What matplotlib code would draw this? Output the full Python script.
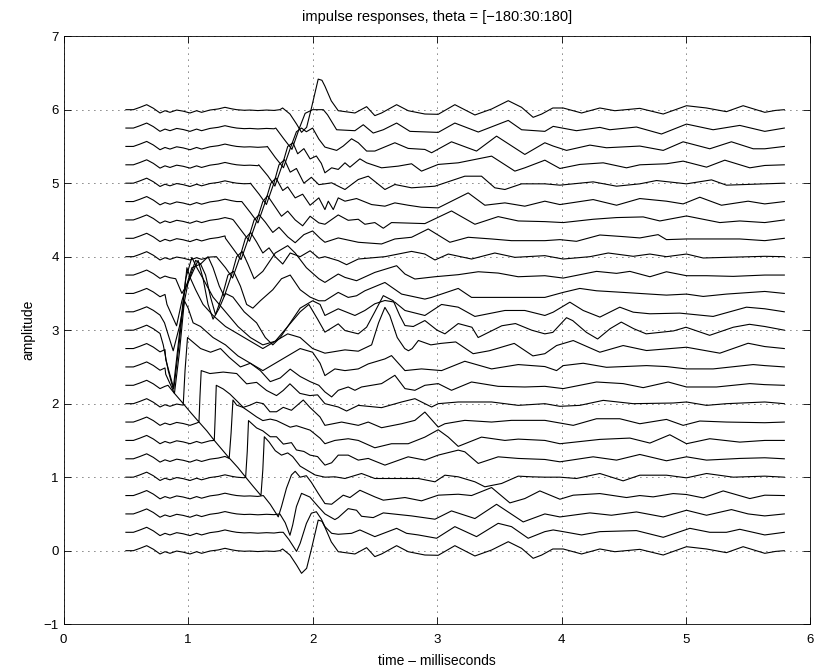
import matplotlib
matplotlib.use("Agg")
import matplotlib.pyplot as plt

plt.rcParams['font.family'] = ['Liberation Sans', 'DejaVu Sans']

# common lead-in shared by every response (t in ms, deviation from trace offset)
onset_t = [0.50, 0.56, 0.61, 0.667, 0.72, 0.774, 0.814, 0.854, 0.908, 0.96, 1.015, 1.068,
           1.108, 1.175, 1.242, 1.296, 1.349, 1.39, 1.45, 1.497, 1.56, 1.63, 1.69, 1.737]
onset_v = [0.0, 0.0, 0.03, 0.068, 0.02, -0.045, -0.014, -0.036, -0.005, -0.02, -0.045, -0.014,
           -0.036, -0.005, 0.01, 0.032, 0.012, 0.0, -0.008, -0.005, -0.012, -0.005, -0.01, 0.0]

# responses after the lead-in, (t, value) pairs; trace k is drawn at offset 0.25*k
h00 = [(1.759, 0.023), (1.818, -0.059), (1.871, -0.195), (1.911, -0.308), (1.952, -0.24),
       (1.992, 0.032), (2.045, 0.416), (2.075, 0.40), (2.099, 0.32), (2.15, 0.12), (2.206, -0.014),
       (2.34, -0.045), (2.434, 0.041), (2.5, -0.081), (2.554, -0.045), (2.675, 0.068), (2.768, -0.014),
       (2.902, -0.059), (3.009, -0.063), (3.143, 0.068), (3.304, -0.072), (3.438, 0.009), (3.572, 0.122),
       (3.679, 0.032), (3.772, -0.104), (3.84, -0.06), (3.93, 0.023), (4.013, 0.023), (4.161, -0.045),
       (4.308, 0.023), (4.428, -0.014), (4.629, 0.018), (4.817, -0.059), (5.004, 0.054), (5.165, 0.023),
       (5.325, -0.027), (5.459, 0.054), (5.633, -0.036), (5.72, -0.01), (5.79, 0.0)]
h01 = [(1.764, 0.0), (1.81, -0.1), (1.871, -0.26), (1.9, -0.15), (1.95, 0.12), (1.99, 0.26),
       (2.03, 0.28), (2.07, 0.18), (2.099, 0.077), (2.153, -0.014), (2.206, -0.027), (2.313, -0.014),
       (2.38, 0.032), (2.5, -0.059), (2.675, 0.054), (2.755, -0.014), (2.849, -0.036), (2.996, -0.081),
       (3.143, 0.077), (3.317, -0.059), (3.491, 0.122), (3.598, 0.077), (3.732, -0.081), (3.866, 0.009),
       (3.933, 0.032), (4.013, 0.009), (4.161, -0.036), (4.308, 0.009), (4.602, 0.023), (4.817, -0.068),
       (5.031, 0.054), (5.191, 0.0), (5.325, 0.0), (5.432, 0.041), (5.633, -0.036), (5.79, 0.0)]
h02 = [(1.737, 0.0), (1.78, -0.12), (1.818, -0.29), (1.84, -0.15), (1.87, 0.1), (1.911, 0.28),
       (1.978, 0.23), (2.045, 0.1), (2.099, 0.0), (2.179, -0.077), (2.206, -0.05), (2.286, 0.072),
       (2.353, 0.05), (2.393, -0.032), (2.487, -0.05), (2.568, 0.014), (2.795, -0.027), (2.983, -0.072),
       (3.116, 0.041), (3.304, -0.063), (3.478, 0.131), (3.692, -0.109), (3.866, 0.0), (3.987, -0.041),
       (4.228, 0.014), (4.401, -0.018), (4.602, 0.027), (4.817, -0.041), (5.004, 0.05), (5.165, -0.018),
       (5.365, 0.059), (5.499, 0.0), (5.633, -0.027), (5.79, 0.0)]
h03 = [(1.604, 0.0), (1.66, -0.12), (1.724, -0.29), (1.75, -0.15), (1.79, 0.1), (1.83, 0.28),
       (1.86, 0.33), (1.9, 0.25), (1.95, 0.27), (1.99, 0.18), (2.045, 0.03), (2.099, -0.109),
       (2.153, -0.118), (2.246, 0.005), (2.3, -0.027), (2.38, 0.072), (2.5, -0.018), (2.568, -0.063),
       (2.742, -0.027), (2.875, -0.072), (3.009, 0.005), (3.17, 0.018), (3.277, 0.0), (3.438, 0.109),
       (3.585, -0.1), (3.705, -0.041), (3.826, 0.063), (3.987, -0.05), (4.094, 0.005), (4.308, 0.027),
       (4.522, -0.027), (4.629, 0.0), (4.736, -0.018), (4.897, 0.027), (5.004, 0.014), (5.138, -0.032),
       (5.299, 0.063), (5.513, -0.041), (5.633, 0.005), (5.79, 0.0)]
h04 = [(1.462, 0.0), (1.52, -0.12), (1.585, -0.25), (1.6, 0.1), (1.612, 0.55), (1.65, 0.48),
       (1.7, 0.36), (1.75, 0.3), (1.8, 0.33), (1.84, 0.28), (1.9, 0.15), (1.95, 0.1), (2.02, 0.03),
       (2.099, 0.0), (2.179, 0.005), (2.26, -0.018), (2.393, 0.05), (2.5, -0.018), (2.634, -0.018),
       (2.849, -0.018), (2.983, -0.063), (3.063, 0.027), (3.17, 0.005), (3.304, -0.063), (3.384, -0.131),
       (3.518, -0.086), (3.652, 0.014), (3.759, 0.005), (3.866, 0.0), (3.987, 0.0), (4.12, -0.018),
       (4.308, 0.05), (4.495, -0.05), (4.629, 0.027), (4.843, 0.027), (5.004, -0.009), (5.165, 0.05),
       (5.379, 0.0), (5.633, 0.014), (5.79, 0.0)]
h05 = [(1.336, 0.0), (1.4, -0.12), (1.462, -0.25), (1.475, 0.1), (1.485, 0.52), (1.55, 0.42),
       (1.6, 0.38), (1.66, 0.3), (1.71, 0.3), (1.765, 0.2), (1.83, 0.22), (1.87, 0.12), (1.93, 0.1),
       (1.98, 0.05), (2.04, 0.03), (2.099, -0.086), (2.153, -0.054), (2.206, 0.05), (2.286, 0.05),
       (2.367, -0.018), (2.447, 0.005), (2.581, -0.086), (2.768, 0.027), (2.902, -0.018), (3.009, 0.05),
       (3.17, 0.118), (3.223, 0.095), (3.331, -0.063), (3.491, 0.027), (3.652, 0.005), (3.866, -0.009),
       (3.987, -0.041), (4.254, 0.027), (4.442, -0.018), (4.629, 0.059), (4.843, -0.027), (5.004, 0.027),
       (5.165, -0.018), (5.432, 0.005), (5.633, 0.014), (5.79, 0.0)]
h06 = [(1.21, 0.0), (1.27, -0.12), (1.33, -0.24), (1.345, 0.1), (1.36, 0.55), (1.39, 0.48),
       (1.44, 0.45), (1.5, 0.38), (1.55, 0.32), (1.6, 0.27), (1.66, 0.29), (1.71, 0.27), (1.82, 0.18),
       (1.87, 0.2), (1.98, 0.14), (2.06, 0.03), (2.099, -0.045), (2.179, 0.0), (2.286, 0.023),
       (2.367, 0.0), (2.5, -0.1), (2.634, -0.045), (2.768, -0.045), (2.902, 0.045), (3.009, 0.145),
       (3.09, 0.045), (3.17, -0.081), (3.357, 0.045), (3.545, 0.0), (3.652, 0.018), (3.866, 0.0),
       (3.987, -0.045), (4.308, 0.014), (4.549, 0.032), (4.71, -0.036), (4.87, 0.077), (5.004, -0.045),
       (5.191, 0.023), (5.432, -0.023), (5.633, 0.0), (5.79, 0.0)]
h07 = [(1.087, 0.0), (1.15, -0.12), (1.21, -0.25), (1.218, 0.1), (1.226, 0.5), (1.282, 0.45),
       (1.336, 0.38), (1.39, 0.29), (1.443, 0.2), (1.497, 0.23), (1.55, 0.27), (1.604, 0.25),
       (1.657, 0.14), (1.71, 0.14), (1.764, 0.2), (1.83, 0.16), (1.925, 0.3), (1.978, 0.2),
       (2.059, 0.07), (2.099, -0.045), (2.233, 0.0), (2.367, -0.045), (2.447, 0.0), (2.554, -0.077),
       (2.715, -0.023), (2.822, 0.023), (2.902, 0.136), (3.009, -0.068), (3.063, -0.023), (3.223, 0.023),
       (3.438, 0.0), (3.598, 0.023), (3.866, 0.023), (4.094, -0.045), (4.281, 0.045), (4.468, 0.045),
       (4.629, -0.023), (4.843, 0.036), (4.977, -0.045), (5.111, 0.014), (5.325, 0.0), (5.633, -0.009),
       (5.79, 0.0)]
h08 = [(0.961, 0.0), (1.02, -0.12), (1.087, -0.25), (1.095, 0.1), (1.105, 0.45), (1.175, 0.41),
       (1.282, 0.43), (1.39, 0.41), (1.47, 0.27), (1.55, 0.29), (1.63, 0.18), (1.71, 0.11),
       (1.764, 0.18), (1.818, 0.27), (1.898, 0.14), (1.978, 0.11), (2.04, 0.12), (2.099, 0.0),
       (2.206, -0.045), (2.273, -0.1), (2.367, -0.023), (2.554, -0.054), (2.715, 0.023), (2.822, 0.068),
       (2.956, -0.045), (3.009, 0.0), (3.17, 0.023), (3.438, 0.023), (3.652, -0.023), (3.866, 0.0),
       (3.987, -0.036), (4.147, -0.023), (4.335, 0.045), (4.576, 0.0), (4.897, 0.009), (5.004, 0.023),
       (5.165, -0.023), (5.325, 0.0), (5.633, 0.023), (5.79, 0.0)]
h09 = [(0.838, 0.0), (0.89, -0.11), (0.961, -0.25), (0.975, 0.2), (0.995, 0.65), (1.03, 0.6),
       (1.1, 0.5), (1.18, 0.45), (1.26, 0.5), (1.33, 0.38), (1.42, 0.25), (1.5, 0.3), (1.58, 0.2),
       (1.66, 0.05), (1.74, 0.1), (1.82, 0.22), (1.9, 0.12), (1.98, 0.05), (2.05, 0.0), (2.099, -0.09),
       (2.153, -0.158), (2.206, -0.068), (2.286, -0.023), (2.34, -0.068), (2.393, -0.023), (2.554, 0.023),
       (2.661, 0.136), (2.742, -0.045), (2.822, -0.068), (2.902, 0.0), (3.009, 0.023), (3.116, -0.068),
       (3.277, 0.045), (3.491, -0.014), (3.705, -0.023), (3.866, -0.014), (4.013, -0.045), (4.281, 0.045),
       (4.495, 0.023), (4.656, -0.032), (4.857, 0.045), (5.004, -0.023), (5.245, -0.023), (5.513, 0.023),
       (5.633, 0.009), (5.79, 0.0)]
h10 = [(0.82, -0.1), (0.89, -0.36), (0.93, 0.2), (0.97, 0.9), (1.0, 0.8), (1.04, 0.6), (1.1, 0.55),
       (1.2, 0.4), (1.3, 0.3), (1.4, 0.15), (1.5, 0.05), (1.6, -0.05), (1.7, 0.05), (1.8, 0.15),
       (1.9, 0.25), (2.0, 0.2), (2.06, 0.05), (2.099, -0.118), (2.179, -0.027), (2.26, -0.05),
       (2.367, -0.027), (2.447, 0.041), (2.581, 0.109), (2.634, 0.154), (2.742, -0.05), (2.875, -0.027),
       (3.036, -0.05), (3.223, 0.077), (3.438, -0.027), (3.652, 0.032), (3.866, 0.005), (3.96, -0.05),
       (4.013, 0.018), (4.174, 0.05), (4.361, -0.005), (4.683, 0.018), (4.843, 0.005), (5.004, -0.027),
       (5.218, -0.027), (5.54, 0.032), (5.633, 0.018), (5.79, 0.0)]
h11 = [(0.82, -0.15), (0.885, -0.55), (0.93, 0.1), (0.99, 1.1), (1.02, 0.95), (1.06, 0.8),
       (1.12, 0.6), (1.2, 0.45), (1.3, 0.3), (1.4, 0.2), (1.5, 0.1), (1.6, 0.0), (1.7, 0.1), (1.8, 0.2),
       (1.9, 0.15), (2.0, 0.0), (2.099, -0.063), (2.26, -0.018), (2.367, -0.036), (2.474, 0.05),
       (2.53, 0.35), (2.581, 0.56), (2.62, 0.45), (2.68, 0.15), (2.74, 0.0), (2.77, -0.03), (2.8, 0.0),
       (2.85, 0.11), (2.95, 0.05), (3.03, 0.07), (3.15, 0.09), (3.29, -0.07), (3.42, -0.03), (3.62, 0.07),
       (3.77, -0.1), (3.866, -0.07), (3.96, 0.041), (4.094, 0.109), (4.308, -0.05), (4.495, 0.041),
       (4.683, -0.027), (5.004, 0.018), (5.272, -0.063), (5.499, 0.072), (5.633, 0.027), (5.79, 0.0)]
h12 = [(0.8, -0.2), (0.84, -0.55), (0.88, -0.8), (0.92, -0.2), (0.98, 0.7), (1.03, 0.99),
       (1.07, 0.85), (1.12, 0.7), (1.2, 0.45), (1.3, 0.25), (1.4, 0.05), (1.5, -0.1), (1.6, -0.2),
       (1.7, -0.15), (1.8, 0.05), (1.9, 0.25), (1.97, 0.35), (2.04, 0.15), (2.099, -0.027),
       (2.206, 0.086), (2.26, -0.005), (2.367, -0.05), (2.434, 0.041), (2.5, 0.25), (2.568, 0.47),
       (2.648, 0.4), (2.7, 0.2), (2.742, 0.063), (2.809, 0.05), (2.902, 0.131), (3.0, 0.0), (3.063, -0.05),
       (3.17, 0.09), (3.28, 0.04), (3.33, -0.1), (3.52, 0.06), (3.63, 0.09), (3.76, 0.0), (3.866, -0.05),
       (3.93, -0.03), (4.04, 0.17), (4.09, 0.13), (4.2, -0.03), (4.29, -0.12), (4.39, 0.02), (4.48, 0.11),
       (4.58, 0.02), (4.68, -0.05), (4.9, -0.01), (5.0, 0.04), (5.19, -0.07), (5.38, 0.04), (5.51, 0.08),
       (5.633, 0.05), (5.79, 0.0)]
h13 = [(0.81, -0.15), (0.88, -0.53), (0.93, -0.2), (1.0, 0.4), (1.08, 0.7), (1.12, 0.45),
       (1.16, 0.1), (1.2, -0.1), (1.25, 0.05), (1.3, 0.25), (1.36, 0.2), (1.45, 0.0), (1.55, -0.15),
       (1.62, -0.35), (1.68, -0.45), (1.74, -0.35), (1.82, -0.15), (1.9, 0.05), (2.0, 0.15), (2.06, 0.1),
       (2.099, -0.05), (2.206, 0.041), (2.34, -0.05), (2.42, 0.018), (2.5, 0.109), (2.581, 0.154),
       (2.661, 0.131), (2.742, 0.018), (2.902, -0.05), (3.036, 0.1), (3.17, 0.063), (3.304, -0.063),
       (3.545, 0.018), (3.705, 0.018), (3.866, -0.05), (3.933, -0.005), (4.067, 0.131), (4.174, 0.018),
       (4.308, -0.072), (4.468, 0.063), (4.576, -0.005), (4.71, -0.027), (4.95, -0.018), (5.218, -0.063),
       (5.486, 0.063), (5.633, 0.041), (5.79, 0.0)]
h14 = [(0.83, -0.15), (0.907, -0.44), (0.95, -0.1), (1.03, 0.35), (1.1, 0.4), (1.14, 0.25),
       (1.18, -0.05), (1.22, -0.29), (1.28, 0.0), (1.32, 0.25), (1.365, 0.3), (1.42, 0.1), (1.47, -0.15),
       (1.52, -0.2), (1.58, -0.1), (1.68, 0.05), (1.75, 0.2), (1.82, 0.25), (1.9, 0.05), (1.98, -0.05),
       (2.05, -0.1), (2.099, -0.1), (2.206, 0.014), (2.286, -0.054), (2.353, -0.032), (2.42, 0.036),
       (2.581, 0.149), (2.715, -0.009), (2.902, -0.077), (2.956, -0.054), (3.17, 0.068), (3.277, -0.054),
       (3.572, -0.054), (3.866, -0.054), (4.013, 0.014), (4.147, 0.068), (4.281, 0.036), (4.495, 0.014),
       (4.71, -0.009), (4.843, -0.023), (5.004, -0.009), (5.138, -0.041), (5.325, -0.009), (5.633, 0.027),
       (5.79, 0.0)]
h15 = [(0.9, -0.05), (0.95, -0.25), (1.0, -0.1), (1.06, 0.2), (1.1, 0.15), (1.16, 0.25),
       (1.2, 0.1), (1.25, -0.15), (1.29, -0.29), (1.349, 0.0), (1.39, 0.25), (1.434, 0.32), (1.48, 0.15),
       (1.53, -0.05), (1.6, 0.05), (1.7, 0.3), (1.8, 0.4), (1.86, 0.3), (1.95, 0.1), (2.05, -0.05),
       (2.099, -0.1), (2.206, 0.014), (2.26, -0.032), (2.353, -0.077), (2.5, 0.036), (2.675, 0.127),
       (2.742, 0.014), (2.822, -0.054), (2.983, -0.023), (3.17, 0.005), (3.331, 0.045), (3.491, 0.027),
       (3.652, -0.023), (3.866, -0.009), (4.013, -0.041), (4.281, 0.05), (4.442, 0.023), (4.549, 0.05),
       (4.71, -0.023), (4.843, 0.045), (5.004, -0.009), (5.165, -0.009), (5.379, -0.018), (5.633, 0.0),
       (5.79, 0.0)]
h16 = [(1.227, 0.0), (1.3, -0.15), (1.357, -0.29), (1.417, 0.0), (1.46, 0.25), (1.502, 0.33),
       (1.55, 0.2), (1.6, 0.05), (1.65, 0.12), (1.7, 0.0), (1.76, -0.1), (1.82, 0.05), (1.9, 0.0),
       (1.98, 0.08), (2.05, -0.02), (2.099, 0.0), (2.206, -0.054), (2.273, -0.109), (2.367, -0.032),
       (2.581, 0.0), (2.795, 0.072), (2.902, 0.036), (2.983, -0.045), (3.09, 0.036), (3.277, -0.032),
       (3.464, 0.05), (3.625, -0.009), (3.866, 0.014), (4.013, -0.032), (4.228, 0.0), (4.375, 0.05),
       (4.576, 0.005), (4.71, 0.036), (4.843, 0.0), (5.004, 0.036), (5.138, -0.018), (5.325, -0.009),
       (5.633, 0.005), (5.79, 0.0)]
h17 = [(1.3, 0.0), (1.365, -0.15), (1.425, -0.29), (1.485, 0.0), (1.53, 0.25), (1.57, 0.32),
       (1.62, 0.22), (1.68, 0.08), (1.73, 0.15), (1.8, 0.02), (1.86, -0.06), (1.93, 0.05), (2.0, 0.1),
       (2.06, 0.0), (2.099, -0.054), (2.206, 0.005), (2.367, -0.054), (2.554, -0.077), (2.661, -0.009),
       (2.795, 0.014), (2.929, 0.127), (3.103, -0.054), (3.25, 0.014), (3.438, -0.009), (3.598, -0.032),
       (3.866, -0.032), (3.987, -0.018), (4.12, -0.041), (4.308, 0.045), (4.495, 0.023), (4.629, 0.005),
       (4.776, 0.05), (4.843, -0.018), (5.004, -0.009), (5.218, -0.009), (5.432, -0.009), (5.633, -0.032),
       (5.79, 0.0)]
h18 = [(1.363, 0.0), (1.43, -0.15), (1.493, -0.29), (1.553, 0.0), (1.6, 0.25), (1.638, 0.33),
       (1.69, 0.2), (1.75, 0.05), (1.8, 0.12), (1.86, 0.0), (1.92, -0.08), (1.98, 0.05), (2.05, -0.04),
       (2.099, -0.059), (2.206, 0.068), (2.286, -0.005), (2.367, 0.009), (2.42, -0.059), (2.5, -0.036),
       (2.568, -0.113), (2.634, -0.036), (2.902, -0.05), (3.116, 0.122), (3.304, -0.059), (3.491, 0.045),
       (3.652, -0.014), (3.866, -0.023), (4.013, -0.036), (4.254, 0.009), (4.442, 0.032), (4.656, 0.041),
       (4.79, -0.014), (5.004, 0.054), (5.272, -0.036), (5.432, -0.014), (5.633, -0.036), (5.79, 0.0)]
h19 = [(1.431, 0.0), (1.5, -0.15), (1.561, -0.29), (1.621, 0.0), (1.665, 0.25), (1.706, 0.32),
       (1.76, 0.15), (1.8, 0.2), (1.86, 0.05), (1.92, 0.1), (1.98, -0.05), (2.05, 0.05), (2.099, -0.109),
       (2.126, 0.005), (2.166, -0.109), (2.206, 0.05), (2.26, 0.005), (2.353, 0.041), (2.474, -0.041),
       (2.581, -0.063), (2.661, -0.018), (2.768, -0.05), (2.875, -0.077), (3.009, -0.086), (3.25, 0.118),
       (3.384, -0.05), (3.545, -0.018), (3.705, -0.063), (3.866, 0.005), (3.987, -0.041), (4.254, 0.027),
       (4.442, -0.05), (4.629, 0.041), (4.843, 0.005), (4.977, -0.032), (5.111, 0.059), (5.285, -0.05),
       (5.499, 0.005), (5.633, -0.032), (5.79, 0.0)]
h20 = [(1.5, 0.0), (1.57, -0.15), (1.629, -0.29), (1.689, 0.0), (1.73, 0.25), (1.774, 0.32),
       (1.82, 0.15), (1.87, 0.2), (1.93, 0.0), (1.99, 0.08), (2.05, -0.02), (2.099, -0.009),
       (2.153, 0.005), (2.206, -0.041), (2.26, -0.086), (2.313, -0.018), (2.367, 0.05), (2.447, 0.095),
       (2.581, -0.086), (2.661, -0.018), (2.795, -0.063), (2.983, -0.041), (3.223, 0.095), (3.357, 0.095),
       (3.464, -0.063), (3.545, -0.086), (3.679, -0.009), (3.866, -0.009), (3.987, -0.027), (4.254, 0.018),
       (4.442, -0.041), (4.629, -0.009), (4.763, 0.036), (5.004, -0.009), (5.205, 0.045), (5.325, -0.027),
       (5.633, -0.009), (5.79, 0.0)]
h21 = [(1.567, 0.0), (1.64, -0.15), (1.697, -0.29), (1.757, 0.0), (1.8, 0.25), (1.842, 0.3),
       (1.88, 0.15), (1.93, 0.22), (1.98, 0.08), (2.03, 0.12), (2.07, 0.02), (2.099, -0.109),
       (2.153, -0.041), (2.206, -0.063), (2.26, 0.027), (2.3, -0.032), (2.38, 0.081), (2.434, 0.027),
       (2.554, -0.041), (2.688, -0.018), (2.795, 0.014), (2.875, -0.086), (3.009, 0.005), (3.17, 0.027),
       (3.438, 0.118), (3.625, -0.086), (3.705, -0.041), (3.866, 0.063), (3.987, -0.05), (4.147, 0.005),
       (4.335, 0.027), (4.522, -0.041), (4.629, 0.0), (4.843, 0.014), (4.977, 0.05), (5.165, -0.032),
       (5.312, 0.063), (5.513, -0.041), (5.633, -0.009), (5.79, 0.0)]
h22 = [(1.636, 0.0), (1.7, -0.15), (1.766, -0.29), (1.826, 0.0), (1.87, 0.2), (1.911, 0.25),
       (1.95, 0.2), (2.0, 0.25), (2.05, 0.1), (2.099, -0.009), (2.193, -0.054), (2.246, 0.005),
       (2.313, 0.104), (2.367, 0.05), (2.434, -0.063), (2.5, -0.063), (2.661, 0.05), (2.768, -0.027),
       (2.902, -0.041), (2.956, -0.086), (3.116, 0.063), (3.317, -0.063), (3.478, 0.14), (3.705, -0.109),
       (3.866, 0.05), (3.933, 0.005), (4.04, -0.054), (4.228, 0.018), (4.361, -0.018), (4.629, 0.005),
       (4.817, -0.054), (4.977, 0.063), (5.191, -0.032), (5.365, 0.063), (5.54, -0.032), (5.633, -0.032),
       (5.79, 0.0)]
h23 = [(1.704, 0.0), (1.77, -0.15), (1.834, -0.29), (1.894, 0.0), (1.94, 0.2), (2.0, 0.25),
       (2.086, 0.25), (2.12, 0.18), (2.193, -0.023), (2.34, -0.036), (2.407, 0.045), (2.487, -0.068),
       (2.568, -0.023), (2.675, 0.068), (2.782, -0.045), (3.009, -0.059), (3.143, 0.068), (3.331, -0.054),
       (3.572, 0.104), (3.679, -0.023), (3.866, -0.045), (3.933, 0.023), (4.12, -0.036), (4.308, 0.009),
       (4.388, -0.023), (4.602, 0.014), (4.803, -0.081), (5.004, 0.054), (5.218, -0.023), (5.432, 0.036),
       (5.633, -0.045), (5.79, 0.0)]
# +180 deg is the same direction as -180 deg
h24 = h00

responses = [h00, h01, h02, h03, h04, h05, h06, h07, h08, h09, h10, h11, h12,
             h13, h14, h15, h16, h17, h18, h19, h20, h21, h22, h23, h24]
spacing = 0.25

fig = plt.figure(figsize=(8.27, 6.70), dpi=100)
ax = fig.add_axes([0.077, 0.0684, 0.903, 0.8776])

for k, resp in enumerate(responses):
    t0 = resp[0][0]
    t = [x for x in onset_t if x < t0] + [p[0] for p in resp]
    v = [y for x, y in zip(onset_t, onset_v) if x < t0] + [p[1] for p in resp]
    ax.plot(t, [y + k * spacing for y in v], color='k', linewidth=0.8)

ax.set_xlim(0, 6)
ax.set_ylim(-1, 7)
ax.set_xticks(range(0, 7))
ax.set_yticks(range(-1, 8))
ax.set_xticklabels(['0', '1', '2', '3', '4', '5', '6'])
ax.set_yticklabels(['\u22121', '0', '1', '2', '3', '4', '5', '6', '7'])
ax.grid(True, color='k', linestyle=(0, (1, 6.2)), linewidth=0.6)
ax.tick_params(direction='in', length=5, width=0.6, top=True, right=True, labelsize=9.5)
ax.tick_params(axis='x', pad=7)
for s in ax.spines.values():
    s.set_linewidth(0.6)

ax.set_title('impulse responses, theta = [\u2212180:30:180]', fontsize=10.5, pad=11)
ax.set_xlabel('time \u2013 milliseconds', fontsize=10, labelpad=6)
ax.set_ylabel('amplitude', fontsize=10, labelpad=6)

fig.savefig('out.png', dpi=100)
